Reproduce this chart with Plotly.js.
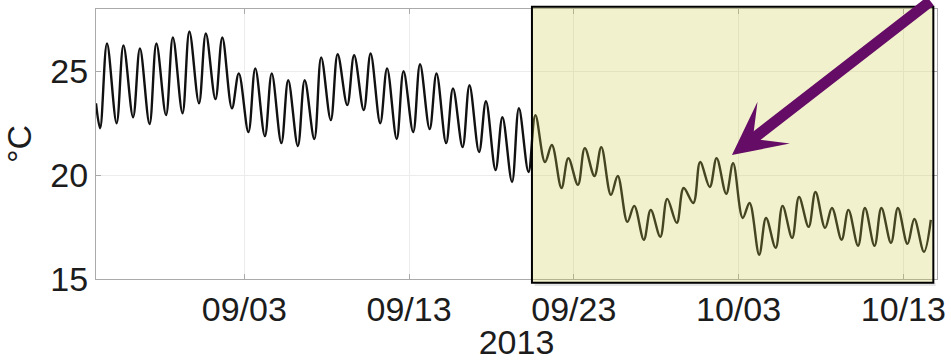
<!DOCTYPE html>
<html>
<head>
<meta charset="utf-8">
<script src="https://cdn.plot.ly/plotly-3.0.1.min.js"></script>
<style>html,body{margin:0;padding:0;background:#fff;}#chart{width:951px;height:361px;}</style>
</head>
<body>
<div id="chart"></div>
<script>
// Daily series, 2013-08-25 .. 2013-10-14
const days = [
  '2013-08-25','2013-08-26','2013-08-27','2013-08-28','2013-08-29','2013-08-30','2013-08-31',
  '2013-09-01','2013-09-02','2013-09-03','2013-09-04','2013-09-05','2013-09-06','2013-09-07',
  '2013-09-08','2013-09-09','2013-09-10','2013-09-11','2013-09-12','2013-09-13','2013-09-14',
  '2013-09-15','2013-09-16','2013-09-17','2013-09-18','2013-09-19','2013-09-20','2013-09-21',
  '2013-09-22','2013-09-23','2013-09-24','2013-09-25','2013-09-26','2013-09-27','2013-09-28',
  '2013-09-29','2013-09-30','2013-10-01','2013-10-02','2013-10-03','2013-10-04','2013-10-05',
  '2013-10-06','2013-10-07','2013-10-08','2013-10-09','2013-10-10','2013-10-11','2013-10-12',
  '2013-10-13','2013-10-14'
];
// early-morning minimum of each day (°C)
const dailyMin = [
  22.26,22.50,22.79,22.46,22.89,22.98,23.46,
  23.66,23.22,22.07,21.88,21.54,21.40,21.74,
  22.65,23.37,23.13,22.50,21.74,22.07,22.22,
  21.54,21.35,21.11,20.25,19.67,20.15,20.63,
  19.38,19.53,19.96,19.05,17.75,16.89,17.03,
  17.70,18.66,19.43,19.10,17.94,16.17,16.50,
  16.98,17.51,17.46,16.89,16.60,16.60,16.74,
  16.69,16.31
];
// afternoon maximum of each day (°C)
const dailyMax = [
  26.34,26.25,26.10,26.34,26.63,26.92,26.82,
  26.63,24.90,25.14,24.90,24.57,24.57,25.67,
  25.82,25.77,25.86,25.14,25.00,25.34,24.90,
  24.18,24.33,23.56,22.79,23.22,22.89,21.45,
  20.82,21.30,21.35,19.96,18.52,18.33,18.86,
  19.38,20.63,20.82,20.58,18.66,17.94,18.52,
  18.95,19.19,18.42,18.33,18.42,18.42,18.42,
  17.89,17.85
];
const startValue = 23.46;      // value at 2013-08-25 00:00
const minTime = '06:00';
const maxTime = '16:00';

const tickDates = ['2013-09-03','2013-09-13','2013-09-23','2013-10-03','2013-10-13'];
const tickLabels = ['09/03','09/13','09/23','10/03','10/13'];
const yTicks = [15, 20, 25];

const xs = [days[0] + ' 00:00'];
const ys = [startValue];
for (let i = 0; i < days.length; i++) {
  xs.push(days[i] + ' ' + minTime); ys.push(dailyMin[i]);
  xs.push(days[i] + ' ' + maxTime); ys.push(dailyMax[i]);
}

const FONT = 'Liberation Sans, Arial, Helvetica, sans-serif';
const trace = {
  x: xs, y: ys, type: 'scatter', mode: 'lines',
  line: {color: '#111111', width: 2.4, shape: 'spline', smoothing: 1},
  hoverinfo: 'skip'
};

const layout = {
  width: 951, height: 361,
  margin: {l: 96, r: 14, t: 9, b: 82, autoexpand: false},
  paper_bgcolor: '#ffffff', plot_bgcolor: '#ffffff',
  showlegend: false,
  font: {family: FONT, color: '#1c1c1c', size: 34},
  xaxis: {
    type: 'date',
    range: ['2013-08-25 00:00', '2013-10-15 01:00'],
    tickvals: tickDates, ticktext: tickLabels,
    ticks: 'inside', ticklen: 5, tickcolor: '#aaaaaa',
    showline: true, linecolor: '#aaaaaa', linewidth: 1, mirror: 'ticks',
    showgrid: true, gridcolor: '#ececec', gridwidth: 1,
    zeroline: false,
    tickfont: {family: FONT, size: 34, color: '#1c1c1c'},
    title: {text: '2013', font: {family: FONT, size: 34, color: '#1c1c1c'}, standoff: 11},
    automargin: false
  },
  yaxis: {
    range: [15, 28],
    tickvals: yTicks,
    ticks: 'inside', ticklen: 5, tickcolor: '#aaaaaa',
    showline: true, linecolor: '#aaaaaa', linewidth: 1, mirror: 'ticks',
    showgrid: true, gridcolor: '#ececec', gridwidth: 1,
    zeroline: false,
    tickfont: {family: FONT, size: 34, color: '#1c1c1c'},
    title: {text: '°C', font: {family: FONT, size: 34, color: '#1c1c1c'}, standoff: 10},
    automargin: false
  },
  shapes: [
    {type: 'rect', xref: 'x', yref: 'paper',
     x0: '2013-09-20 15:00', x1: '2013-10-14 23:00', y0: -0.026, y1: -0.014,
     fillcolor: 'rgba(0,0,0,0.10)', line: {width: 0}, layer: 'above'},
    {type: 'rect', xref: 'x', yref: 'paper',
     x0: '2013-09-20 11:00', x1: '2013-10-14 19:40', y0: -0.014, y1: 1.008,
     fillcolor: 'rgba(209,206,74,0.28)', line: {color: '#000000', width: 2}, layer: 'above'}
  ],
  annotations: [
    {x: '2013-10-02 14:20', y: 20.97, xref: 'x', yref: 'y',
     ax: 200, ay: -165, axref: 'pixel', ayref: 'pixel',
     text: '', showarrow: true, arrowhead: 3, arrowsize: 0.8, arrowwidth: 11,
     arrowcolor: '#650c66', standoff: 0}
  ]
};

Plotly.newPlot('chart', [trace], layout, {staticPlot: true, displayModeBar: false});
</script>
</body>
</html>
